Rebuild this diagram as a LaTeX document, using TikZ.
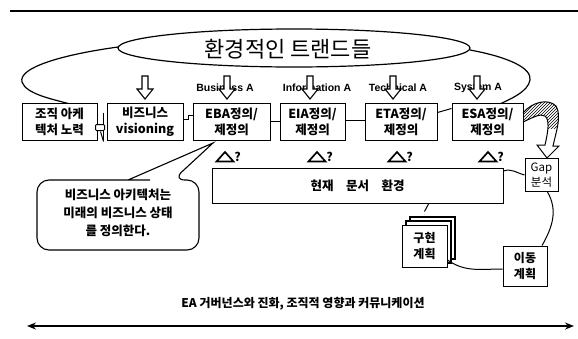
\documentclass[tikz,border=0pt]{standalone}
\usepackage{fontspec}
\setmainfont{Noto Sans CJK KR}
\newfontfamily\arialf{Liberation Sans}
\usetikzlibrary{arrows.meta,patterns,calc}
\begin{document}
\begin{tikzpicture}[x=1pt,y=-1pt,
  box/.style={draw,line width=1pt,fill=white,inner sep=0pt,align=center,font=\fontsize{12.5}{16}\selectfont\bfseries},
  conn/.style={line width=1pt},
  hollowarrow/.style={draw,fill=white,line width=1.1pt},
  lbl/.style={font=\arialf\bfseries\fontsize{10.5}{12}\selectfont,inner sep=0pt},
  downarr/.pic={\draw[hollowarrow] (-3,-12) -- (3,-12) -- (3,1) -- (8,1) -- (0,11) -- (-8,1) -- (-3,1) -- cycle;},
  delta/.pic={\draw[line width=1.7pt,line join=miter] (-8.5,4.5) -- (8.5,4.5) -- (0,-5) -- cycle;
              \node[font=\bfseries\fontsize{12}{12}\selectfont,inner sep=0pt] (-q) at (12.5,-0.5) {?};},
]
\useasboundingbox (0,0) rectangle (578,338);

% top rule
\coordinate (tl) at (10,11);
\coordinate (tr) at (578,11);
\draw[line width=1.5pt] (tl) -- (tr);

% environment trend ellipse
\draw[line width=1.2pt] (294,48) ellipse [x radius=176, y radius=19];
\node[inner sep=0pt,font=\fontsize{22}{24}\selectfont] (trend) at (288,49) {환경적인 트랜드들};
\draw[line width=1.2pt] (118,47) .. controls (60,55) and (18,68) .. (22,82) .. controls (26,94) and (52,99) .. (70,104);
\draw[line width=1.2pt] (470,50) .. controls (508,57) and (532,68) .. (530,80) .. controls (528,92) and (510,99) .. (500,104);

% labels
\node[lbl] (lb) at (225,88) {Business A};
\node[lbl] (li) at (317,88) {Information A};
\node[lbl] (lt) at (398,88) {Technical A};
\node[lbl] (ls) at (478,88) {System A};

% hollow down arrows
\pic at (145,88) {downarr};
\pic at (227,88) {downarr};
\pic at (310,88) {downarr};
\pic at (393,88) {downarr};
\pic at (477,88) {downarr};

% row of boxes
\node[box,minimum width=75pt,minimum height=37pt] (org) at (59.5,121.5) {조직 아케\\텍처 노력};
\node[box,minimum width=76pt,minimum height=37pt] (biz) at (145,121.5) {비즈니스\\visioning};
\node[box,minimum width=77pt,minimum height=37pt] (eba) at (231.5,121.5) {EBA정의/\\제정의};
\node[box,minimum width=65pt,minimum height=37pt] (eia) at (312.5,121.5) {EIA정의/\\제정의};
\node[box,minimum width=72pt,minimum height=37pt] (eta) at (401,121.5) {ETA정의/\\제정의};
\node[box,minimum width=71pt,minimum height=37pt] (esa) at (487.5,121.5) {ESA정의/\\제정의};

% connectors in the row
\draw[conn] ([xshift=3pt,yshift=9pt]org.south east) -- ([xshift=6pt,yshift=-1pt]org.south east);
\draw[conn] ([xshift=6pt,yshift=28pt]org.south east) -- ([xshift=6pt,yshift=0pt]org.south east);
\draw[conn,fill=white,rounded corners=1pt] ($(org.east)+(-2,3)$) rectangle ($(org.east)+(7,9)$);
\draw[conn] ([yshift=2pt]biz.east) -- ++(5,0) |- ([yshift=6pt]eba.west);
\draw[conn] ([yshift=0pt]eba.east) -- ([yshift=0pt]eia.west);
\draw[conn] ([yshift=1pt]eia.east) -- ([yshift=1pt]eta.west);
\draw[conn] ([yshift=9pt]eta.east) -- ([yshift=13pt]esa.west);

% delta markers
\pic (d1) at (225,157) {delta};
\pic (d2) at (317,157) {delta};
\pic (d3) at (397,157) {delta};
\pic (d4) at (488,157) {delta};

% current documentation box
\node[box,minimum width=291pt,minimum height=35pt] (cur) at (357.5,186) {현재\quad 문서\quad 환경};

% speech bubble
\draw[line width=1.1pt,fill=white] (150,180) [rounded corners=12pt] -- (37,180) -- (37,250) -- (199,250) -- (199,180) -- (173,180) [sharp corners] -- (213,143) -- (128,180) -- (150,180);
\node[inner sep=0pt,align=center,font=\fontsize{12.5}{18}\selectfont\bfseries] (bubbletxt) at (118,213) {비즈니스 아키텍처는\\미래의 비즈니스 상태\\를 정의한다.};

% implementation plan (stacked)
\draw[line width=1.6pt,fill=white] (410,217) rectangle (455,259);
\draw[line width=1.6pt,fill=white] (406,221) rectangle (451,263);
\node[box,minimum width=45pt,minimum height=42pt,font=\fontsize{12}{16}\selectfont\bfseries] (impl) at (424.5,246) {구현\\계획};

% gap box
\node[box,minimum width=33pt,minimum height=33pt,font=\fontsize{11.5}{15}\selectfont] (gap) at (541.5,175) {Gap\\분석};
% migration box
\node[box,minimum width=44pt,minimum height=40pt,font=\fontsize{12}{16}\selectfont\bfseries] (move) at (525,266) {이동\\계획};

% curved block arrow ESA -> Gap
\begin{scope}
\path[clip] (523,113) .. controls (532,102) and (548,98) .. (556,106) .. controls (562,116) and (556,132) .. (553,146) -- (559,146) -- (547,158) -- (537,145) -- (545,145) .. controls (548,132) and (550,120) .. (545,116) .. controls (540,113) and (532,118) .. (523,122) -- cycle;
\fill[pattern=north east lines] (520,95) rectangle (565,128);
\end{scope}
\draw[line width=1pt] (523,113) .. controls (532,102) and (548,98) .. (556,106) .. controls (562,116) and (556,132) .. (553,146) -- (559,146) -- (547,158) -- (537,145) -- (545,145) .. controls (548,132) and (550,120) .. (545,116) .. controls (540,113) and (532,118) .. (523,122);

% connectors lower area
\draw[conn] ([yshift=-3pt]cur.north east) to[out=20,in=165] (gap.west);
\draw[conn] ([xshift=71pt]cur.south) -- ([xshift=0pt,yshift=13pt]impl.north);
\draw[conn] ([yshift=-14pt]impl.east) to[out=-35,in=180] ([yshift=-3pt]move.west);
\draw[conn] ([xshift=6pt]gap.south) to[out=-60,in=60] ([xshift=17pt]move.north);

% bottom caption and arrow
\node[inner sep=0pt,font=\fontsize{12}{14}\selectfont\bfseries] (caption) at (303,304) {EA 거버넌스와 진화, 조직적 영향과 커뮤니케이션};
\coordinate (bl) at (27,326);
\coordinate (br) at (574,326);
\draw[line width=1.6pt,{Stealth[length=9pt,width=7pt]}-{Stealth[length=9pt,width=7pt]}] (bl) -- (br);
\end{tikzpicture}
\end{document}
